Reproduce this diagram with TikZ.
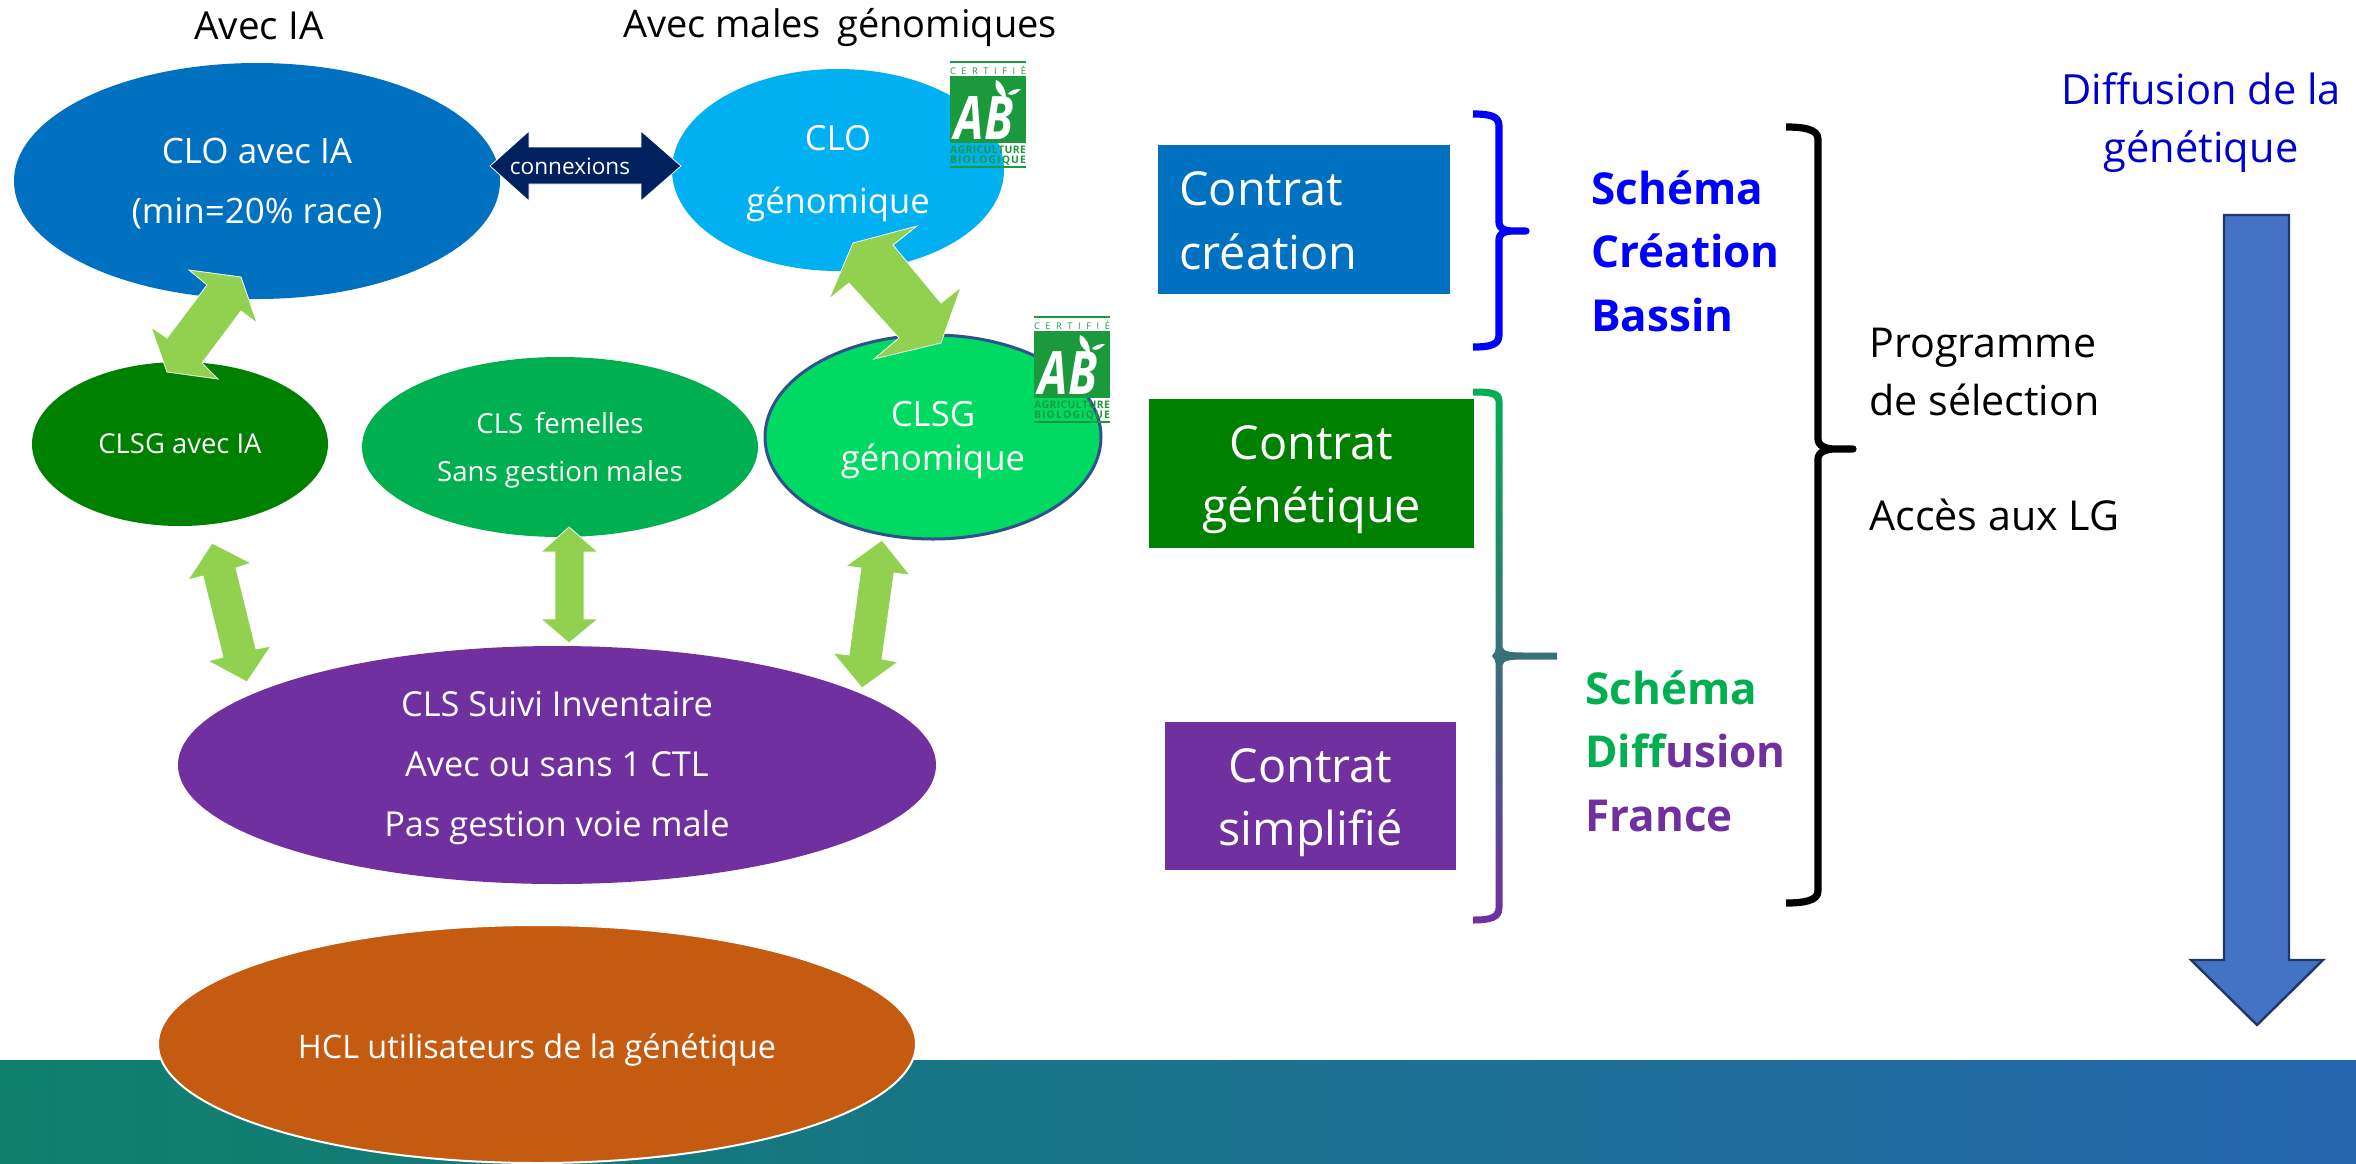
\documentclass[tikz,border=0pt]{standalone}
\usepackage{fontspec}
\setmainfont{Open Sans}
\usetikzlibrary{shapes.geometric}
\definecolor{cloia}{HTML}{0070C0}
\definecolor{clog}{HTML}{00B0F0}
\definecolor{clsia}{HTML}{008000}
\definecolor{clsf}{HTML}{00B050}
\definecolor{clsg}{HTML}{00DA63}
\definecolor{clsgline}{HTML}{2F528F}
\definecolor{vio}{HTML}{7030A0}
\definecolor{hcl}{HTML}{C55A11}
\definecolor{arr}{HTML}{92D050}
\definecolor{navy}{HTML}{002060}
\definecolor{abg}{HTML}{1A9A3C}
\definecolor{ablue}{HTML}{4472C4}
\definecolor{ablueline}{HTML}{1F3864}
\definecolor{dblue}{HTML}{0000FF}
\definecolor{tblue}{HTML}{0000CC}
\definecolor{bandl}{HTML}{0F806A}
\definecolor{bandr}{HTML}{2466AE}
\newcommand{\fs}[2]{\fontsize{#1}{#2}\selectfont}
\newcommand{\spread}[1]{\makebox[38pt][s]{#1}}
\newcommand{\nudge}[1]{\rule{0pt}{#1}}
\tikzset{
 x=0.5pt,y=-0.5pt,
 ell/.style={ellipse,inner sep=0pt,outer sep=0pt,text=white,align=center},
 box/.style={inner sep=0pt,outer sep=0pt,text=white,align=center},
 dbl/.style={fill=arr,draw=white,line width=0.4pt},
 lab/.style={inner sep=0pt,align=center},
 labl/.style={inner sep=0pt,align=left,anchor=west},
 brace/.style={line width=3.6pt,line join=round},
 logotext/.style={text=abg,inner sep=0pt},
}
\newcommand{\logo}[3]{%
 \begin{scope}[shift={(#1,#2)}]
 \fill[abg] (0,0) rectangle (76,2);
 \fill[abg] (0,15) rectangle (76,82);
 \fill[abg] (0,105) rectangle (76,107);
 \node[logotext] (#3c) at (38,9) {\spread{\fs{4.6}{5}C\hfill E\hfill R\hfill T\hfill I\hfill F\hfill I\hfill É}};
 \node[logotext] (#3a) at (38,89) {\spread{\fs{5.2}{6}\bfseries A\hfill G\hfill R\hfill I\hfill C\hfill U\hfill L\hfill T\hfill U\hfill R\hfill E}};
 \node[logotext] (#3b) at (38,100) {\spread{\fs{5.2}{6}\bfseries B\hfill I\hfill O\hfill L\hfill O\hfill G\hfill I\hfill Q\hfill U\hfill E}};
 \node[inner sep=0pt,text=white] (#3l) at (34,57) {\scalebox{0.78}[1]{\fs{30}{30}\itshape\bfseries AB}};
 \fill[white] (46,19) .. controls (44,28) and (49,34) .. (56,37) .. controls (56,30) and (53,22) .. (46,19);
 \fill[white] (58,33) .. controls (63,36) and (68,31) .. (71,28) .. controls (66,28) and (60,29) .. (58,33);
 \end{scope}}
\begin{document}
\begin{tikzpicture}
\useasboundingbox (0,0) rectangle (2356,1163);
\fill[white] (0,0) rectangle (2356,1163);
\shade[left color=bandl,right color=bandr] (0,1060) rectangle (2356,1163);

\node[lab] (tia) at (259,26) {\fs{19.3}{24}Avec IA};
\node[lab] (tmal) at (840,28) {\fs{19}{24}Avec males\, génomiques};

\node[ell,font=\fs{17.5}{30},fill=cloia,minimum width=243pt,minimum height=118pt] (cloia) at (257,181) {\nudge{15pt}CLO avec IA\\(min=20\% race)};
\node[ell,font=\fs{17.3}{31.5},fill=clog,minimum width=166pt,minimum height=101pt] (clog) at (838,170) {\nudge{16.5pt}CLO\\génomique};
\node[ell,font=\fs{13.7}{20},fill=clsia,minimum width=148pt,minimum height=82pt] (clsia) at (180,444) {CLSG avec IA};
\node[ell,font=\fs{13.8}{24},fill=clsf,minimum width=198pt,minimum height=90pt] (clsf) at (560,447) {\nudge{13.5pt}CLS\, femelles\\Sans gestion males};
\node[ell,font=\fs{17.4}{22},fill=clsg,draw=clsgline,line width=1.5pt,minimum width=168pt,minimum height=102pt] (clsg) at (933,437) {\nudge{15.5pt}CLSG\\génomique};
\node[ell,font=\fs{17.2}{30},fill=vio,minimum width=379pt,minimum height=119pt] (suivi) at (557,765) {\nudge{15.5pt}CLS Suivi Inventaire\\Avec ou sans 1 CTL\\Pas gestion voie male};
\node[ell,font=\fs{16.2}{24},fill=hcl,draw=white,line width=1pt,minimum width=379pt,minimum height=119pt] (hcl) at (537,1044) {\nudge{18.3pt}HCL utilisateurs de la génétique};

\fill[navy,draw=white,line width=0.4pt] (490,166)--(529,131)--(529,147)--(641,147)--(641,131)--(681,166)--(641,201)--(641,184)--(529,184)--(529,201)--cycle;
\node[box,font=\fs{11.3}{14}] (conn) at (570,166) {connexions};

\draw[dbl] (189,270)--(241,277)--(257,323)--(241,311)--(202,363)--(218,379)--(167,372)--(151,327)--(167,338)--(207,285)--cycle;
\draw[dbl] (917,226)--(893,245)--(941,303)--(961,287)--(941,343)--(874,359)--(899,338)--(849,283)--(829,299)--(853,243)--cycle;
\draw[dbl] (212,543)--(251,563)--(236,568)--(256,649)--(271,646)--(247,682)--(208,661)--(223,657)--(203,576)--(188,580)--cycle;
\draw[dbl] (569,527)--(598,552)--(584,552)--(584,619)--(598,619)--(569,643)--(541,619)--(555,619)--(555,552)--(541,552)--cycle;
\draw[dbl] (882,540)--(910,575)--(894,573)--(882,659)--(898,662)--(862,688)--(833,653)--(849,655)--(861,568)--(846,566)--cycle;

\logo{950}{61}{ab}
\logo{1034}{316}{ac}

% contract boxes
\node[box,fill=cloia,minimum width=146pt,minimum height=74.5pt] (b1) at (1304,219.5) {};
\node[labl,text=white,font=\fs{23.4}{30}] (b1a) at (1179,189) {Contrat};
\node[labl,text=white,font=\fs{23.4}{30}] (b1b) at (1179,252) {création};
\node[box,fill=clsia,minimum width=162.5pt,minimum height=74.5pt,font=\fs{23.4}{31.5}] (b2) at (1311.5,473.5) {\nudge{23.5pt}Contrat\\génétique};
\node[box,fill=vio,minimum width=145.5pt,minimum height=74pt,font=\fs{23.4}{31.5}] (b3) at (1310.5,796) {\nudge{23.5pt}Contrat\\simplifié};

% braces
\draw[brace,draw=dblue] (1473,114) .. controls (1490,114) and (1499,116) .. (1499,126) -- (1499,222) .. controls (1499,229) and (1505,231) .. (1512,231) -- (1526,231) -- (1512,231) .. controls (1505,231) and (1499,233) .. (1499,240) -- (1499,335) .. controls (1499,345) and (1490,347) .. (1473,347);
\draw[brace,draw=black] (1786,127) .. controls (1803,127) and (1818,129) .. (1818,139) -- (1818,439) .. controls (1818,446) and (1826,449) .. (1835,449) -- (1853,449) -- (1835,449) .. controls (1826,449) and (1818,452) .. (1818,459) -- (1818,891) .. controls (1818,901) and (1803,903) .. (1786,903);
\shade[top color=clsf,bottom color=vio] (1473,388.5) .. controls (1490,388.5) and (1502.5,389) .. (1502.5,401) -- (1502.5,647) .. controls (1503,652) and (1512,652.5) .. (1525,652.5) -- (1557,652.5) -- (1557,659.5) -- (1525,659.5) .. controls (1512,659.5) and (1503,660) .. (1502.5,665) -- (1502.5,908) .. controls (1502.5,921) and (1490,923.5) .. (1473,923.5) -- (1473,916.5) .. controls (1485,916.5) and (1495.5,916) .. (1495.5,908) -- (1495.5,663) .. controls (1495.5,659) and (1492,657) .. (1492,656) .. controls (1492,655) and (1495.5,653) .. (1495.5,649) -- (1495.5,401) .. controls (1495.5,396) and (1485,395.5) .. (1473,395.5) -- cycle;

% scheme labels
\node[labl,text=dblue,font=\fs{22}{30}\bfseries] (s1) at (1591,188) {Schéma};
\node[labl,text=dblue,font=\fs{22}{30}\bfseries] (s2) at (1591,251) {Création};
\node[labl,text=dblue,font=\fs{22}{30}\bfseries] (s3) at (1591,315) {Bassin};
\node[labl,text=clsf,font=\fs{22}{30}\bfseries] (d1) at (1585,688) {Schéma};
\node[labl,font=\fs{22}{30}\bfseries] (d2) at (1585,751) {\textcolor{clsf}{Diff}\textcolor{vio}{usion}};
\node[labl,text=vio,font=\fs{22}{30}\bfseries] (d3) at (1585,816) {France};

\node[labl,font=\fs{20.6}{24}] (p1) at (1869,348) {Programme};
\node[labl,font=\fs{20.6}{24}] (p2) at (1869,400) {de sélection};
\node[labl,font=\fs{20.6}{24}] (p3) at (1869,515) {Accès aux LG};

\node[lab,text=tblue,font=\fs{20.8}{29}] (dif) at (2201,123) {Diffusion de la\\génétique};

\fill[ablue,draw=ablueline,line width=1.2pt,line join=miter] (2224,215)--(2289,215)--(2289,960)--(2323,960)--(2257,1025)--(2191,960)--(2224,960)--cycle;
\end{tikzpicture}
\end{document}
